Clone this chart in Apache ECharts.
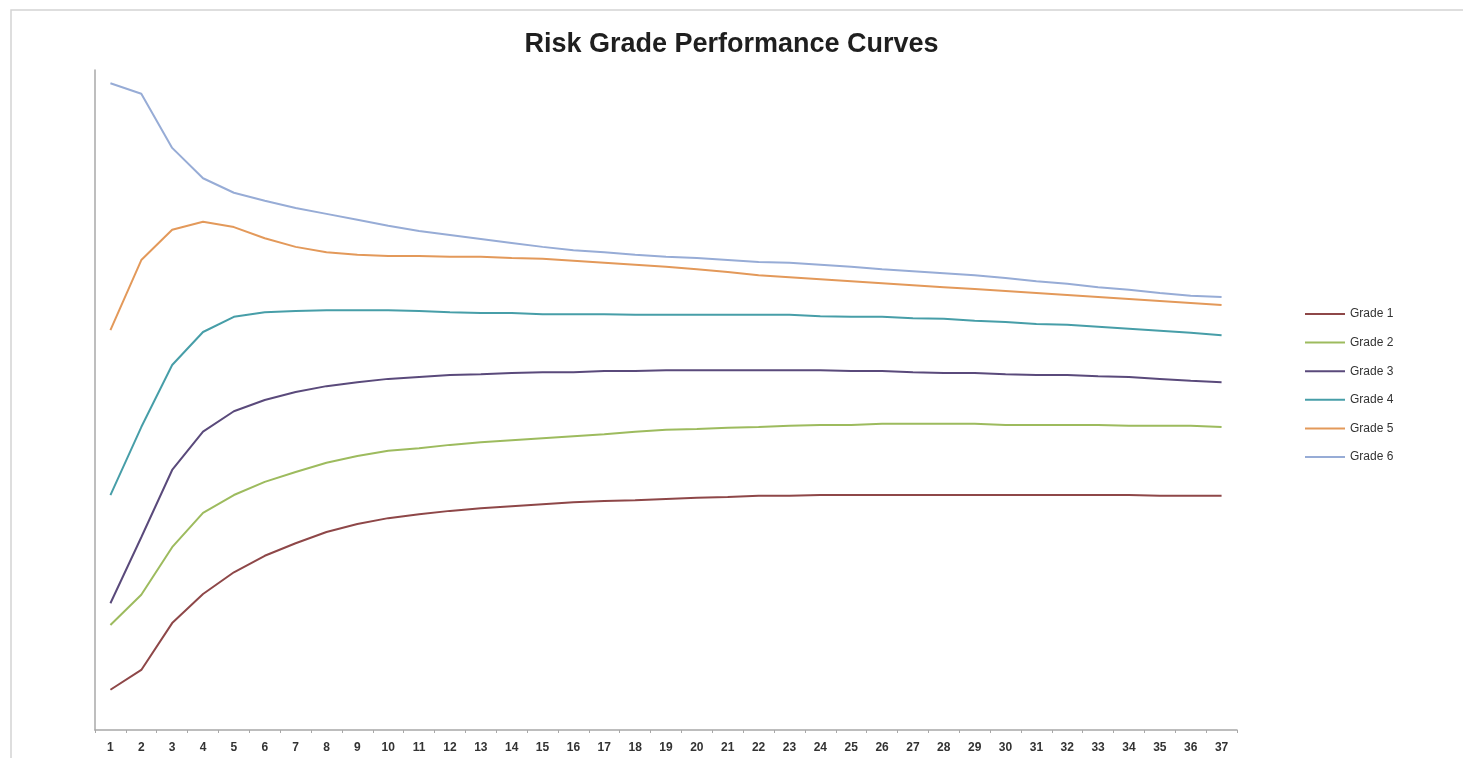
<!DOCTYPE html>
<html>
<head>
<meta charset="utf-8">
<title>Risk Grade Performance Curves</title>
<script src="https://cdn.jsdelivr.net/npm/echarts@6/dist/echarts.min.js"></script>
<style>
  html, body { margin: 0; padding: 0; background: #ffffff; }
  #chart { width: 1463px; height: 758px; }
</style>
</head>
<body>
<div id="chart"></div>
<script>
// Periods 1..37 on the category axis
const periods = Array.from({ length: 37 }, (_, i) => String(i + 1));

const seriesNames = ['Grade 1', 'Grade 2', 'Grade 3', 'Grade 4', 'Grade 5', 'Grade 6'];

const grade1 = [6.1, 9.1, 16.2, 20.6, 23.9, 26.4, 28.3, 30.0, 31.2, 32.1, 32.7, 33.2, 33.6, 33.9, 34.2, 34.5, 34.7, 34.8, 35.0, 35.2, 35.3, 35.5, 35.5, 35.6, 35.6, 35.6, 35.6, 35.6, 35.6, 35.6, 35.6, 35.6, 35.6, 35.6, 35.5, 35.5, 35.5];
const grade2 = [15.9, 20.5, 27.7, 32.9, 35.6, 37.6, 39.1, 40.5, 41.5, 42.3, 42.7, 43.2, 43.6, 43.9, 44.2, 44.5, 44.8, 45.2, 45.5, 45.6, 45.8, 45.9, 46.1, 46.2, 46.2, 46.4, 46.4, 46.4, 46.4, 46.2, 46.2, 46.2, 46.2, 46.1, 46.1, 46.1, 45.9];
const grade3 = [19.2, 29.2, 39.4, 45.2, 48.3, 50.0, 51.2, 52.1, 52.7, 53.2, 53.5, 53.8, 53.9, 54.1, 54.2, 54.2, 54.4, 54.4, 54.5, 54.5, 54.5, 54.5, 54.5, 54.5, 54.4, 54.4, 54.2, 54.1, 54.1, 53.9, 53.8, 53.8, 53.6, 53.5, 53.2, 52.9, 52.7];
const grade4 = [35.6, 45.9, 55.3, 60.3, 62.6, 63.3, 63.5, 63.6, 63.6, 63.6, 63.5, 63.3, 63.2, 63.2, 63.0, 63.0, 63.0, 62.9, 62.9, 62.9, 62.9, 62.9, 62.9, 62.7, 62.6, 62.6, 62.4, 62.3, 62.0, 61.8, 61.5, 61.4, 61.1, 60.8, 60.5, 60.2, 59.8];
const grade5 = [60.6, 71.2, 75.8, 77.0, 76.2, 74.5, 73.2, 72.4, 72.0, 71.8, 71.8, 71.7, 71.7, 71.5, 71.4, 71.1, 70.8, 70.5, 70.2, 69.8, 69.4, 68.9, 68.6, 68.3, 68.0, 67.7, 67.4, 67.1, 66.8, 66.5, 66.2, 65.9, 65.6, 65.3, 65.0, 64.7, 64.4];
const grade6 = [98.0, 96.4, 88.2, 83.6, 81.4, 80.2, 79.1, 78.2, 77.3, 76.4, 75.6, 75.0, 74.4, 73.8, 73.2, 72.7, 72.4, 72.0, 71.7, 71.5, 71.2, 70.9, 70.8, 70.5, 70.2, 69.8, 69.5, 69.2, 68.9, 68.5, 68.0, 67.6, 67.1, 66.7, 66.2, 65.8, 65.6];

const seriesData = [grade1, grade2, grade3, grade4, grade5, grade6];
const seriesColors = ['#8e4748', '#9dbb5e', '#5a4a7b', '#479ea8', '#e3995a', '#97acd6'];

const chart = echarts.init(document.getElementById('chart'), null, { renderer: 'canvas' });

chart.setOption({
  animation: false,
  backgroundColor: '#ffffff',
  title: {
    text: 'Risk Grade Performance Curves',
    left: 'center',
    top: 26,
    textStyle: {
      fontFamily: 'Liberation Sans',
      fontWeight: 'bold',
      fontSize: 27,
      color: '#1f1f1f'
    }
  },
  graphic: [{
    type: 'rect',
    shape: { x: 11, y: 10, width: 1470, height: 770 },
    style: { fill: 'none', stroke: '#d4d4d4', lineWidth: 1.5 },
    silent: true,
    z: -1
  }],
  legend: {
    orient: 'vertical',
    left: 1305,
    top: 307,
    padding: 0,
    itemWidth: 40,
    itemHeight: 2,
    itemGap: 14.6,
    icon: 'rect',
    data: seriesNames,
    textStyle: {
      fontFamily: 'Liberation Sans',
      fontSize: 12,
      lineHeight: 14,
      color: '#333333',
      padding: [0, 0, 0, 0]
    }
  },
  grid: {
    left: 95,
    right: 226,
    top: 70,
    bottom: 28,
    containLabel: false
  },
  xAxis: {
    type: 'category',
    data: periods,
    boundaryGap: true,
    axisLine: { show: true, lineStyle: { color: '#a8a8a8', width: 1.5 } },
    axisTick: { show: true, length: 3, alignWithLabel: false, lineStyle: { color: '#a8a8a8' } },
    axisLabel: {
      interval: 0,
      margin: 12,
      fontFamily: 'Liberation Sans',
      fontSize: 12,
      fontWeight: 'bold',
      color: '#333333'
    },
    splitLine: { show: false }
  },
  yAxis: {
    type: 'value',
    min: 0,
    max: 100,
    axisLine: { show: true, lineStyle: { color: '#a8a8a8', width: 1.5 } },
    axisTick: { show: false },
    axisLabel: { show: false },
    splitLine: { show: false }
  },
  series: seriesNames.map((name, i) => ({
    name: name,
    type: 'line',
    data: seriesData[i],
    showSymbol: false,
    symbol: 'none',
    smooth: false,
    color: seriesColors[i],
    lineStyle: { width: 2, color: seriesColors[i] }
  }))
});
</script>
</body>
</html>
